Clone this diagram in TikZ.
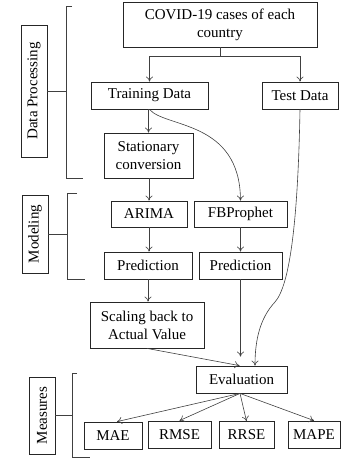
\documentclass[tikz,border=0pt]{standalone}
\usepackage{fontspec}
\setmainfont{Liberation Serif}
\usetikzlibrary{arrows.meta}
\begin{document}
\begin{tikzpicture}[x=1pt,y=-1pt,
  box/.style={draw=black!85, line width=0.8pt, inner sep=1pt, align=center, font=\fontsize{15}{18}\selectfont},
  lbl/.style={draw=black!85, line width=0.8pt, inner sep=1pt, rotate=90, font=\fontsize{15}{18}\selectfont},
  conn/.style={draw=black!75, line width=0.6pt, -{To[length=5pt,width=7pt]}},
  brk/.style={draw=black!75, line width=0.7pt}]
\useasboundingbox (0,0) rectangle (342,459);
% boxes
\node[box, minimum width=194pt, minimum height=45pt] (covid) at (220,24.5) {COVID-19 cases of each\\country};
\node[box, minimum width=117pt, minimum height=27pt] (train) at (149.5,95.5) {Training Data};
\node[box, minimum width=76pt, minimum height=27pt] (test) at (300,95.5) {Test Data};
\node[box, minimum width=89pt, minimum height=45pt] (stat) at (148.5,155.5) {Stationary\\conversion};
\node[box, minimum width=76pt, minimum height=26pt] (arima) at (149,214) {ARIMA};
\node[box, minimum width=93pt, minimum height=26pt] (fbp) at (240.5,214) {FBProphet};
\node[box, minimum width=88pt, minimum height=27pt] (pred1) at (148,265.5) {Prediction};
\node[box, minimum width=83pt, minimum height=27pt] (pred2) at (240.5,265.5) {Prediction};
\node[box, minimum width=114pt, minimum height=46pt] (scale) at (147,325) {Scaling back to\\Actual Value};
\node[box, minimum width=91pt, minimum height=27pt] (eval) at (241.5,379.5) {Evaluation};
\node[box, minimum width=58pt, minimum height=27pt] (mae) at (113,435.5) {MAE};
\node[box, minimum width=63pt, minimum height=27pt] (rmse) at (179.5,434.5) {RMSE};
\node[box, minimum width=55pt, minimum height=27pt] (rrse) at (246.5,435) {RRSE};
\node[box, minimum width=52pt, minimum height=27pt] (mape) at (314,434.5) {MAPE};
% side labels
\node[lbl, minimum width=132pt, minimum height=26pt] (dp) at (34,91) {Data Processing};
\node[lbl, minimum width=78pt, minimum height=26pt] (mod) at (35,234) {Modeling};
\node[lbl, minimum width=77pt, minimum height=26pt] (meas) at (42,415.5) {Measures};
% brackets
\draw[brk] (72,6) -- (66,6) -- (66,178) -- (83,178);
\draw[brk] (dp.south) -- (66,91);
\draw[brk] (77,193) -- (67,193) -- (67,279) -- (85,279);
\draw[brk] (mod.south) -- (67,234);
\draw[brk] (77,373) -- (72,373) -- (72,457) -- (90,457);
\draw[brk] (meas.south) -- (72,415.5);
% connectors
\draw[brk] (covid.south) -- ++(0,9) coordinate (split);
\draw[conn] (split) -| (train);
\draw[conn] (split) -| (test);
\draw[conn] (stat.north |- train.south) -- (stat.north);
\draw[conn] (train.south) .. controls (165,128) and (240,120) .. (fbp.north);
\draw[conn] (arima.north |- stat.south) -- (arima.north);
\draw[conn] (arima.south) -- (arima.south |- pred1.north);
\draw[conn] (fbp.south) -- (fbp.south |- pred2.north);
\draw[conn] (pred1.south) -- (pred1.south |- scale.north);
\draw[conn] (scale.south) -- ([xshift=-2pt]eval.north);
\draw[conn, shorten >=9pt] (pred2.south) -- (pred2.south |- eval.north);
\draw[conn] (test.south) .. controls (298,220) and (290,285) .. (275,302) .. controls (260,318) and (255,340) .. ([xshift=13.5pt]eval.north);
\draw[conn] ([xshift=-1.5pt]eval.south) -- ([xshift=4pt]mae.north);
\draw[conn] ([xshift=-1.5pt]eval.south) -- (rmse.north);
\draw[conn] ([xshift=-1.5pt]eval.south) -- (rrse.north);
\draw[conn] ([xshift=-1.5pt]eval.south) -- (mape.north);
\end{tikzpicture}
\end{document}
